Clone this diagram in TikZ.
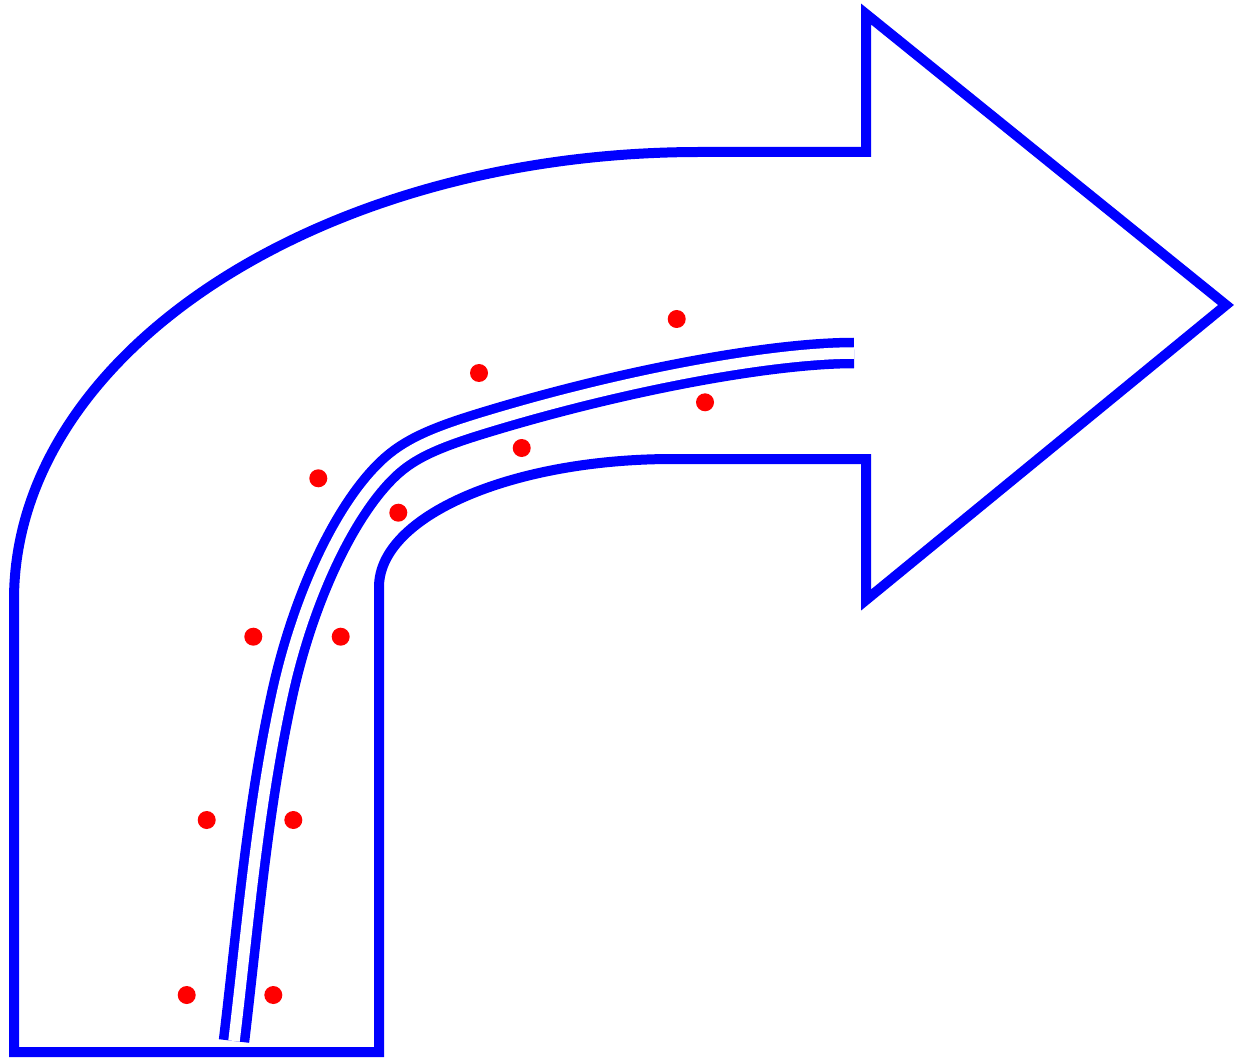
\documentclass[tikz,border=0pt]{standalone}
\definecolor{arrowblue}{RGB}{0,0,255}
\definecolor{dotred}{RGB}{255,0,0}
\tikzset{
  outline/.style={draw=arrowblue, line width=5pt, line join=miter, miter limit=10},
  rail/.style={draw=arrowblue, line width=4.75pt, double=white, double distance=5.75pt},
  particle/.style={fill=dotred},
}
\begin{document}
\begin{tikzpicture}[x=0.5pt, y=-0.5pt]
  \useasboundingbox (0,0) rectangle (1234,1058);
  % outer bent arrow
  \draw[outline] (14,1052) -- (379,1052) -- (379,587)
     .. controls (379,516.3) and (510.6,459) .. (673,459)
     -- (866,459) -- (866,600) -- (1226,305) -- (866,14) -- (866,152)
     -- (700,152) .. controls (321.1,152) and (14,352.6) .. (14,600) -- cycle;
  % double rail
  \coordinate (railstart) at (234,1041);
  \coordinate (railA) at (282.5,693);
  \coordinate (railB) at (396.4,461.6);
  \coordinate (railC) at (493,420);
  \coordinate (railend) at (854,353);
  \draw[rail] (railstart) .. controls (247.9,925) and (257,809) .. (railA)
     .. controls (305,591) and (350.6,498.3) .. (railB)
     .. controls (419,443.5) and (450.3,432.8) .. (railC)
     .. controls (627.1,379.8) and (771.6,353) .. (railend);
  % particles
  \foreach \px/\py in {186.7/995, 273.3/995, 206.7/820, 293.3/820,
                      253.3/636.7, 340.7/636.7, 318.3/478.3, 398.3/512.7,
                      479/373, 521.7/448, 676.7/319, 705/402.3}
    \fill[particle] (\px,\py) circle[radius=4.5pt];
\end{tikzpicture}
\end{document}
